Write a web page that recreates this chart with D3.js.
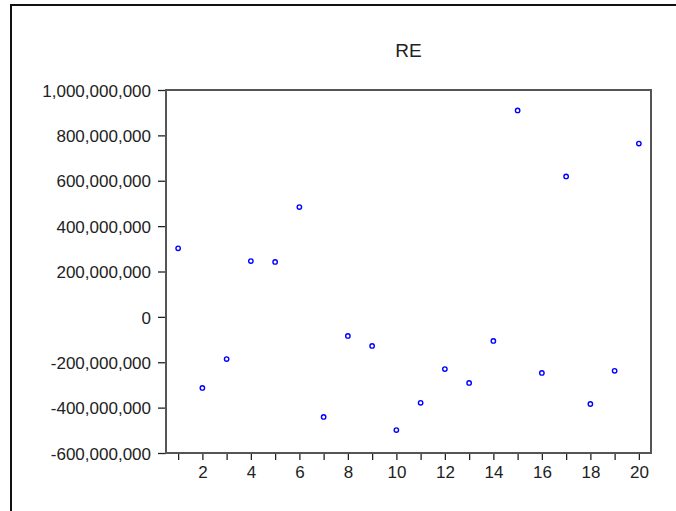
<!DOCTYPE html>
<html>
<head>
<meta charset="utf-8">
<script src="https://cdn.jsdelivr.net/npm/d3@7"></script>
<style>
body { margin: 0; background: #fff; }
text { font-family: "Liberation Sans", Arial, sans-serif; fill: #222; }
</style>
</head>
<body>
<div></div>
<script>
var w = 676;
var h = 511;

// observation number and RE value
var obs = [1, 2, 3, 4, 5, 6, 7, 8, 9, 10, 11, 12, 13, 14, 15, 16, 17, 18, 19, 20];
var re = [302e6, -313e6, -186e6, 246e6, 242e6, 484e6, -441e6, -84e6, -128e6, -499e6,
	-379e6, -230e6, -291e6, -106e6, 910e6, -247e6, 619e6, -384e6, -238e6, 764e6];

var yTicks = [1e9, 8e8, 6e8, 4e8, 2e8, 0, -2e8, -4e8, -6e8];
var yTickLabels = ["1,000,000,000", "800,000,000", "600,000,000", "400,000,000", "200,000,000",
	"0", "-200,000,000", "-400,000,000", "-600,000,000"];
var xTicks = [1, 2, 3, 4, 5, 6, 7, 8, 9, 10, 11, 12, 13, 14, 15, 16, 17, 18, 19, 20];
var xTickLabels = ["", "2", "", "4", "", "6", "", "8", "", "10", "", "12", "", "14", "", "16", "", "18", "", "20"];
var title = "RE";

var plotL = 166, plotR = 651, plotT = 90, plotB = 453;

var svg = d3.select("div").append("svg")
	.attr("width", w)
	.attr("height", h);

// outer frame (only top and left edges show)
svg.append("path")
	.attr("d", "M11," + h + "V5H" + w)
	.attr("fill", "none")
	.attr("stroke", "#111")
	.attr("stroke-width", 2);

var x = d3.scaleLinear().domain([0.5, 20.5]).range([plotL, plotR]);
var y = d3.scaleLinear().domain([-6e8, 1e9]).range([plotB, plotT]);

svg.append("text")
	.attr("x", (plotL + plotR) / 2)
	.attr("y", 57)
	.attr("text-anchor", "middle")
	.style("font-size", "19px")
	.text(title);

var yAxis = svg.append("g")
	.attr("transform", "translate(" + plotL + ",0)")
	.call(d3.axisLeft(y)
		.tickValues(yTicks)
		.tickSize(8)
		.tickPadding(7)
		.tickFormat(function(d, i) { return yTickLabels[i]; }));

var xAxis = svg.append("g")
	.attr("transform", "translate(0," + plotB + ")")
	.call(d3.axisBottom(x)
		.tickValues(xTicks)
		.tickSize(7)
		.tickPadding(6)
		.tickFormat(function(d, i) { return xTickLabels[i]; }));

[yAxis, xAxis].forEach(function(a) {
	a.select(".domain").remove();
	a.selectAll(".tick line").attr("stroke", "#222").attr("stroke-width", 1.3);
	a.selectAll("text")
		.attr("fill", "#222")
		.style("font-family", "'Liberation Sans', Arial, sans-serif")
		.style("font-size", "17px");
});
yAxis.selectAll("text").attr("dy", "0.36em");

// plot frame
svg.append("rect")
	.attr("x", plotL)
	.attr("y", plotT)
	.attr("width", plotR - plotL)
	.attr("height", plotB - plotT)
	.attr("fill", "none")
	.attr("stroke", "#555")
	.attr("stroke-width", 2);

svg.append("g").selectAll("circle")
	.data(obs)
	.enter()
	.append("circle")
	.attr("cx", function(d) { return x(d); })
	.attr("cy", function(d, i) { return y(re[i]); })
	.attr("r", 2.2)
	.attr("fill", "none")
	.attr("stroke", "#0000ff")
	.attr("stroke-width", 1.4);
</script>
</body>
</html>
